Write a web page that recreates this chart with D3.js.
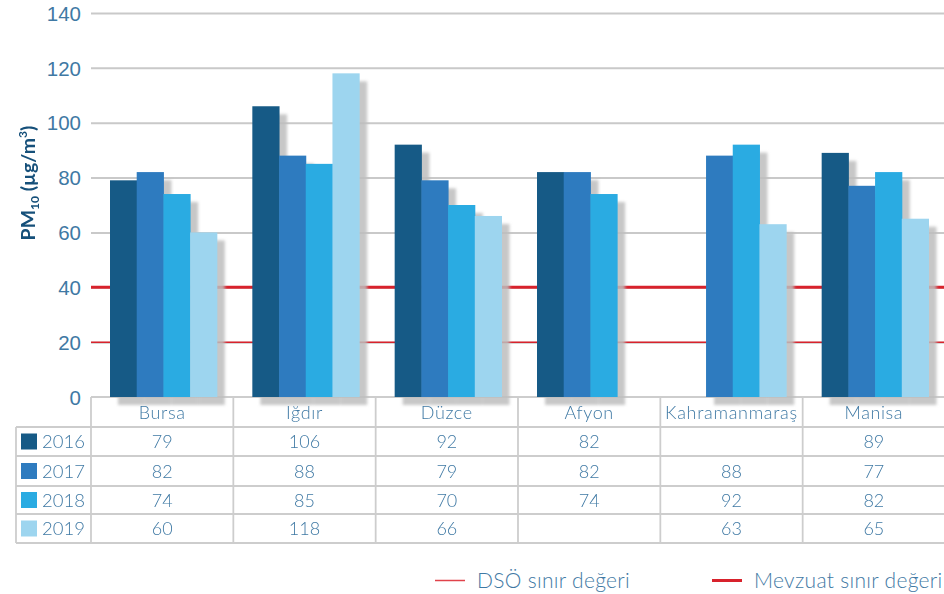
<!DOCTYPE html>
<html>
<head>
<meta charset="utf-8">
<script src="https://cdn.jsdelivr.net/npm/d3@7"></script>
<style>
  html, body { margin: 0; padding: 0; background: #fff; overflow: hidden; }
  svg { display: block; font-family: Lato, "Open Sans", sans-serif; }
</style>
</head>
<body>
<svg id="chart" width="944" height="594"></svg>
<script>
// PM10 annual means by province and year
const cities = ["Bursa", "Iğdır", "Düzce", "Afyon", "Kahramanmaraş", "Manisa"];
const years = ["2016", "2017", "2018", "2019"];
const v2016 = [79, 106, 92, 82, null, 89];
const v2017 = [82, 88, 79, 82, 88, 77];
const v2018 = [74, 85, 70, 74, 92, 82];
const v2019 = [60, 118, 66, null, 63, 65];
const yTicks = [0, 20, 40, 60, 80, 100, 120, 140];
const whoLimit = 20;      // DSÖ sınır değeri
const legalLimit = 40;    // Mevzuat sınır değeri

const series = [v2016, v2017, v2018, v2019];
const colors = ["#165a86", "#2e7bbf", "#2aabe2", "#9dd5ef"];

const svg = d3.select("#chart");
const plotLeft = 91, plotRight = 945, plotTop = 13, plotBottom = 397;

const x = d3.scaleBand().domain(cities).range([plotLeft, plotRight]).paddingInner(0).paddingOuter(0);
const xi = d3.scaleBand().domain(years).range([19, x.bandwidth() - 16.5]).padding(0);
const y = d3.scaleLinear().domain([0, 140]).range([plotBottom, plotTop]);
const color = d3.scaleOrdinal().domain(years).range(colors);

// shadow filter
const defs = svg.append("defs");
const f = defs.append("filter").attr("id", "soft").attr("x", "-30%").attr("y", "-30%").attr("width", "160%").attr("height", "160%");
f.append("feGaussianBlur").attr("stdDeviation", 1.6);

// gridlines
const yAxis = d3.axisLeft(y).tickValues(yTicks).tickSize(-(944 - plotLeft)).tickPadding(10);
const gy = svg.append("g").attr("transform", `translate(${plotLeft},0)`).call(yAxis);
gy.select(".domain").remove();
gy.selectAll(".tick line").attr("stroke", "#c9c9c9").attr("stroke-width", 2)
  .filter(d => d === 0).remove();
gy.selectAll(".tick text").attr("fill", "#3f79a4").attr("font-size", 20.5).attr("font-weight", 300)
  .attr("x", -10).attr("dy", "0.35em");

// limit lines
svg.append("line").attr("x1", plotLeft).attr("x2", 944).attr("y1", y(whoLimit)).attr("y2", y(whoLimit))
  .attr("stroke", "#d8222c").attr("stroke-width", 1.5);
svg.append("line").attr("x1", plotLeft).attr("x2", 944).attr("y1", y(legalLimit)).attr("y2", y(legalLimit))
  .attr("stroke", "#d8222c").attr("stroke-width", 3);

// flatten data
const bars = [];
cities.forEach((c, i) => years.forEach((yr, j) => {
  const v = series[j][i];
  if (v != null) bars.push({ city: c, year: yr, value: v });
}));

// table grid
const rowY = [397, 427, 456, 486, 514, 543];
const tbl = svg.append("g").attr("stroke", "#cdcdcd").attr("stroke-width", 1.8).attr("fill", "none");
tbl.append("line").attr("x1", plotLeft).attr("x2", 944).attr("y1", rowY[0]).attr("y2", rowY[0]);
rowY.slice(1).forEach(ry => tbl.append("line").attr("x1", 16).attr("x2", 944).attr("y1", ry).attr("y2", ry));
tbl.append("line").attr("x1", 16).attr("x2", 16).attr("y1", rowY[1]).attr("y2", rowY[5]);
cities.forEach(c => tbl.append("line").attr("x1", x(c)).attr("x2", x(c)).attr("y1", rowY[0]).attr("y2", rowY[5]));

// bar shadows
svg.append("g").attr("filter", "url(#soft)").selectAll("rect").data(bars).join("rect")
  .attr("x", d => x(d.city) + xi(d.year) + 8)
  .attr("y", d => y(d.value) + 8)
  .attr("width", xi.bandwidth())
  .attr("height", d => plotBottom - y(d.value))
  .attr("fill", "#bdbdbd").attr("opacity", 0.85);

// bars
svg.append("g").selectAll("rect").data(bars).join("rect")
  .attr("x", d => x(d.city) + xi(d.year))
  .attr("y", d => y(d.value))
  .attr("width", xi.bandwidth() + 0.5)
  .attr("height", d => plotBottom - y(d.value))
  .attr("fill", d => color(d.year));

// table text
const txtColor = "#3f79a4";
svg.append("g").selectAll("text").data(cities).join("text")
  .attr("x", d => x(d) + x.bandwidth() / 2)
  .attr("y", (rowY[0] + rowY[1]) / 2 + 6.5)
  .attr("text-anchor", "middle")
  .attr("font-size", 18)
  .attr("letter-spacing", d => d.length > 10 ? 0.7 : 0.6)
  .attr("font-weight", 300)
  .attr("fill", txtColor)
  .text(d => d);

years.forEach((yr, j) => {
  const cy = (rowY[j + 1] + rowY[j + 2]) / 2;
  svg.append("rect").attr("x", 21).attr("y", cy - 8).attr("width", 16).attr("height", 16).attr("fill", color(yr));
  svg.append("text").attr("x", 42).attr("y", cy + 6.5).attr("font-size", 18.5).attr("font-weight", 300)
    .attr("fill", txtColor).text(yr);
  svg.append("g").selectAll("text").data(cities).join("text")
    .attr("x", d => x(d) + x.bandwidth() / 2)
    .attr("y", cy + 6.5)
    .attr("text-anchor", "middle")
    .attr("font-size", 18)
    .attr("font-weight", 300)
    .attr("fill", txtColor)
    .text((d, i) => series[j][i] == null ? "" : series[j][i]);
});

// y-axis title
const title = svg.append("text")
  .attr("transform", "translate(35,183) rotate(-90)")
  .attr("text-anchor", "middle")
  .attr("font-size", 19.5)
  .attr("font-weight", 700)
  .attr("fill", "#16507a");
title.append("tspan").text("PM");
title.append("tspan").attr("font-size", 12).attr("dy", 4).text("10");
title.append("tspan").attr("dy", -4).text(" (µg/m");
title.append("tspan").attr("font-size", 12).attr("dy", -8).text("3");
title.append("tspan").attr("dy", 8).text(")");

// legend
const lg = svg.append("g");
lg.append("line").attr("x1", 435).attr("x2", 465).attr("y1", 580.5).attr("y2", 580.5)
  .attr("stroke", "#e0434b").attr("stroke-width", 1.5);
lg.append("text").attr("x", 477).attr("y", 588).attr("font-size", 21).attr("letter-spacing", 0.3)
  .attr("font-weight", 300).attr("fill", txtColor).text("DSÖ sınır değeri");
lg.append("line").attr("x1", 712).attr("x2", 742).attr("y1", 580.5).attr("y2", 580.5)
  .attr("stroke", "#d8222c").attr("stroke-width", 3);
lg.append("text").attr("x", 754).attr("y", 588).attr("font-size", 21).attr("letter-spacing", 0.3)
  .attr("font-weight", 300).attr("fill", txtColor).text("Mevzuat sınır değeri");
</script>
</body>
</html>
